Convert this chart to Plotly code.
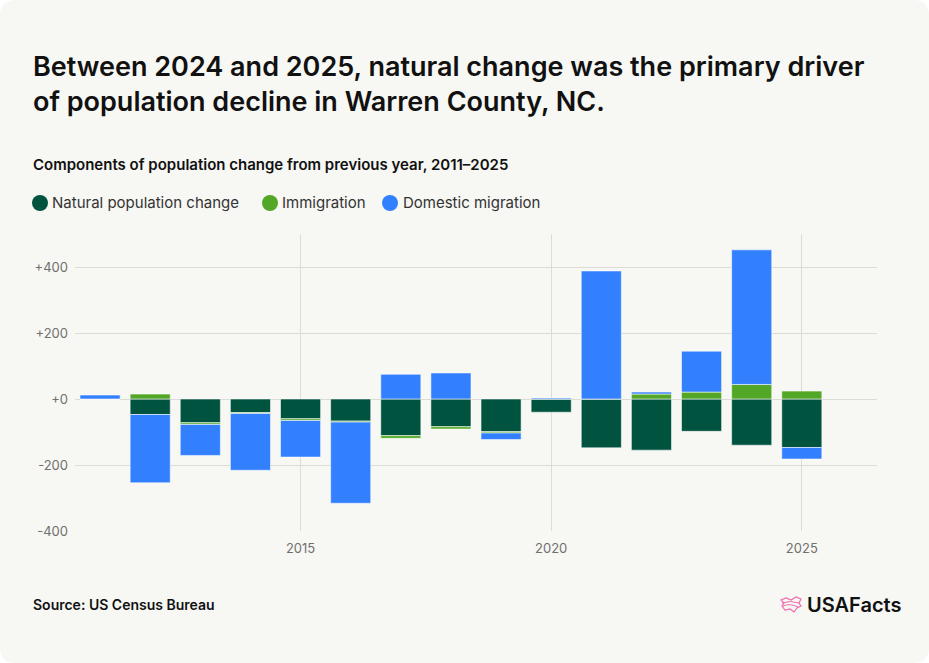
import plotly.graph_objects as go

# ---------------- data ----------------
years = list(range(2011, 2026))
natural = [0, -47, -72, -41, -60, -67, -111, -84, -99, -40, -148, -155, -98, -140, -147]
immigration = [0, 15, -5, -3, -5, -3, -8, -7, -4, 0, 0, 15, 21, 44, 24]
domestic = [12, -207, -94, -172, -111, -246, 75, 79, -20, 3, 388, 6, 124, 408, -35]

series_names = ["Natural population change", "Immigration", "Domestic migration"]
series_colors = ["#00533F", "#52A826", "#3380FF"]

y_tickvals = [-400, -200, 0, 200, 400]
y_ticktext = ["-400", "-200", "+0", "+200", "+400"]
x_tickvals = [2015, 2020, 2025]
x_ticktext = ["2015", "2020", "2025"]

title_text = ("Between 2024 and 2025, natural change was the primary driver<br>"
              "of population decline in Warren County, NC.")
subtitle_text = "Components of population change from previous year, 2011\u20132025"
source_text = "Source: US Census Bureau"

# ---------------- layout geometry ----------------
W, H = 929, 663
L, R, T, B = 75, 52, 234, 132
PW, PH = W - L - R, H - T - B


def xp(px):
    return (px - L) / PW


def yp(py):
    return (H - B - py) / PH


FONT = "Inter"
BG = "#F7F7F3"
GRID = "#DCDCD7"

fig = go.Figure()
for name, vals, col in zip(series_names, [natural, immigration, domestic], series_colors):
    fig.add_trace(go.Bar(
        x=years, y=vals, name=name, width=0.8,
        marker=dict(color=col, line=dict(color="rgba(255,255,255,0.55)", width=1)),
        showlegend=False,
    ))

shapes = []
# rounded card background
r = 16
x0, y0, x1, y1 = 0, 0, W, H
pts = []
path = (f"M {xp(x0 + r)},{yp(y0)} L {xp(x1 - r)},{yp(y0)} "
        f"Q {xp(x1)},{yp(y0)} {xp(x1)},{yp(y0 + r)} "
        f"L {xp(x1)},{yp(y1 - r)} Q {xp(x1)},{yp(y1)} {xp(x1 - r)},{yp(y1)} "
        f"L {xp(x0 + r)},{yp(y1)} Q {xp(x0)},{yp(y1)} {xp(x0)},{yp(y1 - r)} "
        f"L {xp(x0)},{yp(y0 + r)} Q {xp(x0)},{yp(y0)} {xp(x0 + r)},{yp(y0)} Z")
shapes.append(dict(type="path", xref="paper", yref="paper", path=path,
                   fillcolor=BG, line=dict(width=0), layer="below"))

annotations = []
annotations.append(dict(text=title_text, xref="paper", yref="paper",
                        x=xp(31), y=yp(84), xanchor="left", yanchor="middle",
                        align="left", showarrow=False,
                        font=dict(family=FONT, size=27, color="#111111", weight=600)))
annotations.append(dict(text=subtitle_text, xref="paper", yref="paper",
                        x=xp(31), y=yp(164), xanchor="left", yanchor="middle",
                        align="left", showarrow=False,
                        font=dict(family=FONT, size=15, color="#111111", weight=600)))

# legend (custom, circles + text)
leg_y = 203
leg_circle_x = [40, 270, 390]
leg_text_x = [50, 280, 401]
for cx, tx, name, col in zip(leg_circle_x, leg_text_x, series_names, series_colors):
    shapes.append(dict(type="circle", xref="paper", yref="paper",
                       x0=xp(cx - 8), x1=xp(cx + 8), y0=yp(leg_y + 8), y1=yp(leg_y - 8),
                       fillcolor=col, line=dict(width=0)))
    annotations.append(dict(text=name, xref="paper", yref="paper",
                            x=xp(tx), y=yp(leg_y), xanchor="left", yanchor="middle",
                            showarrow=False,
                            font=dict(family=FONT, size=15, color="#333333")))

annotations.append(dict(text=source_text, xref="paper", yref="paper",
                        x=xp(31), y=yp(604), xanchor="left", yanchor="middle",
                        showarrow=False,
                        font=dict(family=FONT, size=14, color="#111111", weight=600)))
annotations.append(dict(text="USAFacts", xref="paper", yref="paper",
                        x=xp(805), y=yp(605), xanchor="left", yanchor="middle",
                        showarrow=False,
                        font=dict(family=FONT, size=20, color="#111111", weight=600)))

# small logo mark (stylised map outline)
logo_pts = [(781, 600), (786, 598), (791, 600), (796, 597), (801, 599), (799, 603),
            (801, 606), (797, 608), (794, 612), (790, 609), (785, 610), (782, 606), (784, 603)]
lp = "M " + " L ".join(f"{xp(a)},{yp(b)}" for a, b in logo_pts) + " Z"
shapes.append(dict(type="path", xref="paper", yref="paper", path=lp,
                   line=dict(color="#F06BB0", width=1.2)))
lp2 = f"M {xp(782)},{yp(603)} Q {xp(790)},{yp(600)} {xp(799)},{yp(603)} M {xp(783)},{yp(606)} Q {xp(790)},{yp(603)} {xp(798)},{yp(607)}"
shapes.append(dict(type="path", xref="paper", yref="paper", path=lp2,
                   line=dict(color="#F06BB0", width=1)))

fig.update_layout(
    width=W, height=H,
    margin=dict(l=L, r=R, t=T, b=B, pad=0),
    paper_bgcolor="#FFFFFF",
    plot_bgcolor=BG,
    barmode="relative",
    bargap=0.2,
    shapes=shapes,
    annotations=annotations,
    font=dict(family=FONT),
    xaxis=dict(range=[2010.5, 2026.5], tickvals=x_tickvals, ticktext=x_ticktext,
               showgrid=True, gridcolor=GRID, gridwidth=1, zeroline=False,
               showline=False, ticks="", ticklabelstandoff=8,
               tickfont=dict(family=FONT, size=13, color="#707070")),
    yaxis=dict(range=[-400, 500], tickvals=y_tickvals, ticktext=y_ticktext,
               showgrid=True, gridcolor=GRID, gridwidth=1, zeroline=False,
               showline=False, ticks="", ticklabelstandoff=6,
               tickfont=dict(family=FONT, size=13, color="#707070")),
)

fig.write_html("out.html")
